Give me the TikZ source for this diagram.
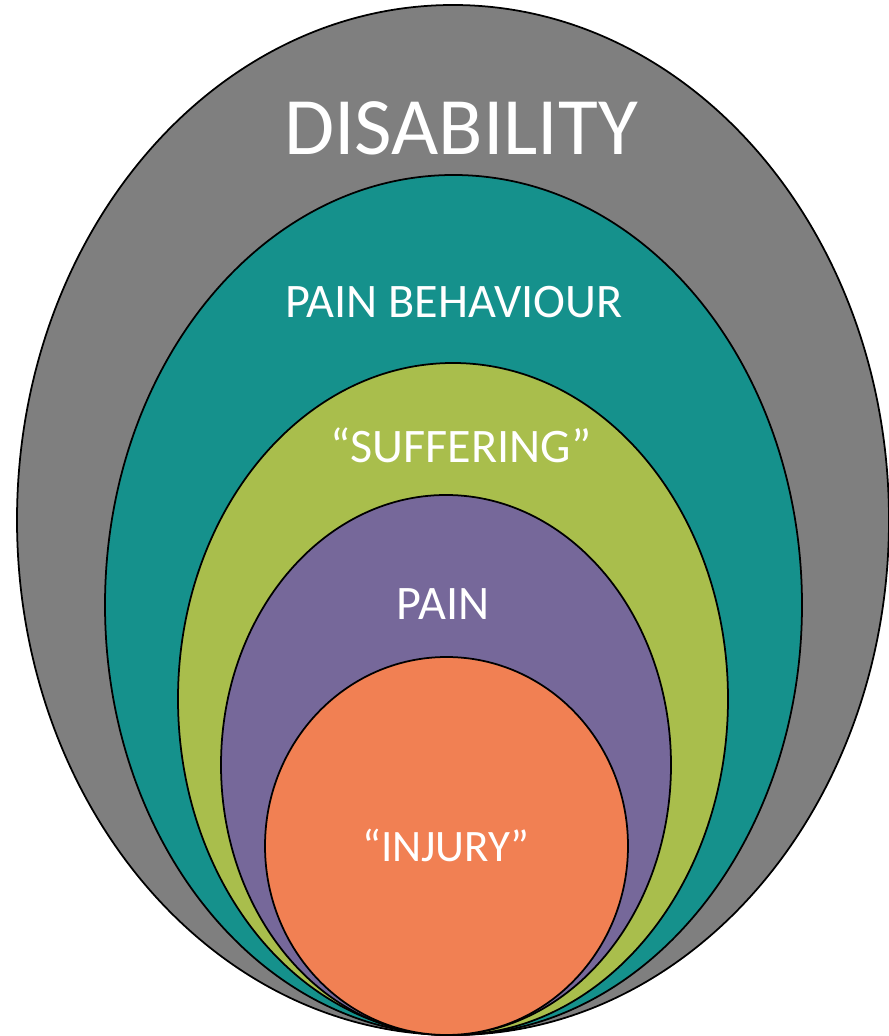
\documentclass[tikz,border=0pt]{standalone}
\usepackage{fontspec}
\setmainfont{Carlito}
\usepackage{tikz}

\definecolor{disgray}{RGB}{127,127,127}
\definecolor{behteal}{RGB}{21,145,140}
\definecolor{sufgreen}{RGB}{169,190,76}
\definecolor{painpurple}{RGB}{118,104,154}
\definecolor{injorange}{RGB}{241,128,83}

\tikzset{
  layer/.style={draw=black, line width=0.5pt},
  lbl/.style={text=white, anchor=base, inner sep=0pt}
}

\begin{document}
\begin{tikzpicture}
  \useasboundingbox (0,0) rectangle (8.88,10.36);
  % nested layers, all touching at the bottom
  \draw[layer, fill=disgray] (4.53,5.16) ellipse [x radius=4.36, y radius=5.15];
  \draw[layer, fill=behteal] (4.535,4.31) ellipse [x radius=3.485, y radius=4.30];
  \draw[layer, fill=sufgreen] (4.53,3.37) ellipse [x radius=2.75, y radius=3.36];
  \draw[layer, fill=painpurple] (4.46,2.71) ellipse [x radius=2.25, y radius=2.70];
  \draw[layer, fill=injorange] (4.465,1.90) ellipse [x radius=1.815, y radius=1.89];
  \node[lbl, font=\fontsize{23.2}{28}\selectfont] (dis) at (4.61,8.81) {DISABILITY};
  \node[lbl, font=\fontsize{13.7}{16}\selectfont] (beh) at (4.54,7.18) {PAIN BEHAVIOUR};
  \node[lbl, font=\fontsize{13.7}{16}\selectfont] (suf) at (4.61,5.73) {“SUFFERING”};
  \node[lbl, font=\fontsize{13.7}{16}\selectfont] (pain) at (4.43,4.16) {PAIN};
  \node[lbl, font=\fontsize{12.8}{15}\selectfont] (inj) at (4.46,1.74) {“INJURY”};
\end{tikzpicture}
\end{document}
